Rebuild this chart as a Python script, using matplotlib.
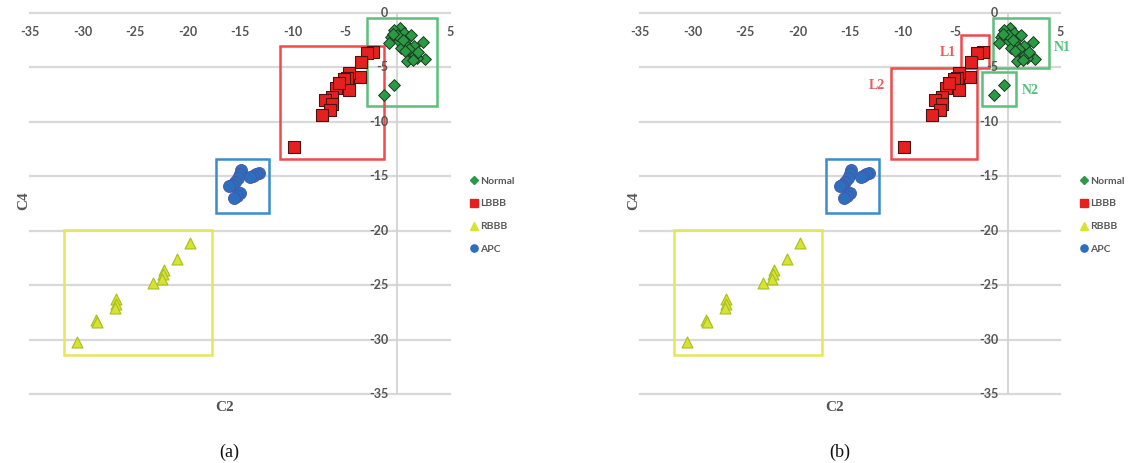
import matplotlib
matplotlib.use("Agg")
import matplotlib.pyplot as plt
from matplotlib.patches import Rectangle
from matplotlib.lines import Line2D

# feature values per beat class (C2, C4)
normal_c2 = [0.2, -0.3, 0.6, -0.6, 1.0, 0.1, -0.8, 0.9, 1.6, 2.4, 2.6, 1.9, 0.9, 1.4,
             1.1, 0.3, 1.7, 0.0, 0.5, -0.4, 1.3, 0.7, 2.0, 1.5, -0.3, -1.3]
normal_c4 = [-1.4, -1.6, -1.8, -2.2, -2.3, -2.6, -2.8, -3.0, -3.0, -2.7, -4.2, -4.1, -4.4, -3.7,
             -3.3, -3.2, -3.9, -2.0, -2.5, -1.9, -2.0, -3.5, -3.6, -4.3, -6.6, -7.5]

lbbb_c2 = [-2.3, -2.9, -3.5, -3.6, -4.6, -4.8, -5.1, -4.6, -5.9, -6.2, -6.9, -6.2, -6.4, -7.2, -5.6, -9.9]
lbbb_c4 = [-3.6, -3.7, -4.5, -5.9, -5.5, -6.0, -6.1, -7.1, -6.9, -7.7, -8.0, -8.4, -8.9, -9.4, -6.4, -12.3]

rbbb_c2 = [-19.8, -21.0, -22.2, -22.3, -22.4, -23.3, -26.8, -26.8, -26.9, -28.7, -28.6, -30.5]
rbbb_c4 = [-21.1, -22.6, -23.6, -24.0, -24.4, -24.8, -26.3, -26.7, -27.1, -28.2, -28.4, -30.2]

apc_c2 = [-14.9, -15.0, -15.2, -15.5, -15.8, -16.0, -13.2, -13.5, -13.8, -14.0, -15.0, -15.3, -15.6]
apc_c4 = [-14.4, -14.8, -15.2, -15.5, -15.8, -15.9, -14.7, -14.8, -15.0, -15.1, -16.5, -16.8, -17.0]

x_ticks = [-35, -30, -25, -20, -15, -10, -5, 5]
y_ticks = [0, -5, -10, -15, -20, -25, -30, -35]

# cluster boxes: (x0, y0, x1, y1)
boxes_a = {"green": (-2.95, -8.5, 3.8, -0.5), "red": (-11.2, -13.4, -1.3, -3.0),
           "blue": (-17.3, -18.4, -12.2, -13.4), "yellow": (-31.8, -31.4, -17.7, -19.9)}
boxes_b = {"green": [(-1.35, -5.05, 3.95, -0.5), (-2.4, -8.5, 0.85, -5.45)],
           "red": [(-4.4, -5.05, -1.75, -2.0), (-11.1, -13.4, -2.9, -5.05)],
           "blue": [(-17.3, -18.4, -12.2, -13.4)], "yellow": [(-31.8, -31.4, -17.7, -19.9)]}
box_colors = {"green": "#5cbf7d", "red": "#f04a4a", "blue": "#3a8ccf", "yellow": "#e6e65a"}
sub_labels = [("L1", -5.7, -3.6, "#f05a5a"), ("L2", -12.4, -6.7, "#f05a5a"),
              ("N1", 5.2, -3.2, "#5cbf7d"), ("N2", 2.2, -7.1, "#5cbf7d")]

W, H = 1135, 463
fig = plt.figure(figsize=(W / 100, H / 100), dpi=100)
tick_font = dict(family="Lato", fontsize=9, color="#555555", fontweight="bold")

styles = [
    ("Normal", "D", "#2a9a45", "#1c3a20"),
    ("LBBB", "s", "#e5201e", "#4a1414"),
    ("RBBB", "^", "#d9e22e", "#a5c025"),
    ("APC", "o", "#2c6fbe", "#4a55a8"),
]


def draw_panel(ax, boxes, caption):
    ax.set_xlim(-35, 5)
    ax.set_ylim(-35, 0)
    for s in ax.spines.values():
        s.set_visible(False)
    ax.set_xticks([])
    ax.set_yticks([])
    for y in y_ticks:
        ax.axhline(y, color="#d9d9d9", lw=1.6, zorder=0, clip_on=False)
        ax.text(-0.9, y, str(y), ha="right", va="center", **tick_font)
    for x in x_ticks:
        ax.text(x, -1.75, str(x), ha="center", va="center", **tick_font)
    ax.axvline(0, color="#d0d0d0", lw=1.2, zorder=0)

    for key, rects in boxes.items():
        if isinstance(rects, tuple):
            rects = [rects]
        for x0, y0, x1, y1 in rects:
            ax.add_patch(Rectangle((x0, y0), x1 - x0, y1 - y0, fill=False,
                                   ec=box_colors[key], lw=1.8, zorder=1, clip_on=False))

    ax.scatter(normal_c2, normal_c4, marker="D", s=36, c="#2a9a45", edgecolors="#1c3a20",
               linewidths=0.7, zorder=3, clip_on=False)
    ax.scatter(lbbb_c2, lbbb_c4, marker="s", s=80, c="#e5201e", edgecolors="#4a1414",
               linewidths=0.8, zorder=3, clip_on=False)
    ax.scatter(rbbb_c2, rbbb_c4, marker="^", s=62, c="#d9e22e", edgecolors="#a5c025",
               linewidths=0.8, zorder=3, clip_on=False)
    ax.scatter(apc_c2, apc_c4, marker="o", s=75, c="#2c6fbe", edgecolors="#4a55a8",
               linewidths=0.6, zorder=3, clip_on=False)

    handles = [Line2D([], [], ls="none", marker=m, markersize=(4.2 if m == "D" else 5.2),
                      mfc=fc, mec=fc, label=name) for name, m, fc, ec in styles]
    ax.legend(handles=handles, loc="upper left", bbox_to_anchor=(1.038, 0.585),
              frameon=False, borderpad=0, handlelength=0.6, handletextpad=0.25,
              labelspacing=1.3, prop=dict(family="Lato", size=7.5, weight="bold"),
              labelcolor="#595959")

    ax.text(-16.5, -36.2, "C2", ha="center", va="center", family="Liberation Serif",
            fontsize=11, fontweight="bold", color="#555555")
    ax.text(-35.6, -17.2, "C4", ha="center", va="center", rotation=90,
            family="Liberation Serif", fontsize=11, fontweight="bold", color="#555555")
    ax.text(-16.0, -40.4, caption, ha="center", va="center", family="Liberation Serif",
            fontsize=13, color="#111111")


ax_a = fig.add_axes([30 / W, 1 - 394 / H, 420 / W, 381 / H])
ax_b = fig.add_axes([640 / W, 1 - 394 / H, 420 / W, 381 / H])
draw_panel(ax_a, boxes_a, "(a)")
draw_panel(ax_b, boxes_b, "(b)")
for text, x, y, col in sub_labels:
    ax_b.text(x, y, text, ha="center", va="center", family="Liberation Serif",
              fontsize=10, fontweight="bold", color=col)

fig.savefig("out.png", dpi=100, facecolor="white")
